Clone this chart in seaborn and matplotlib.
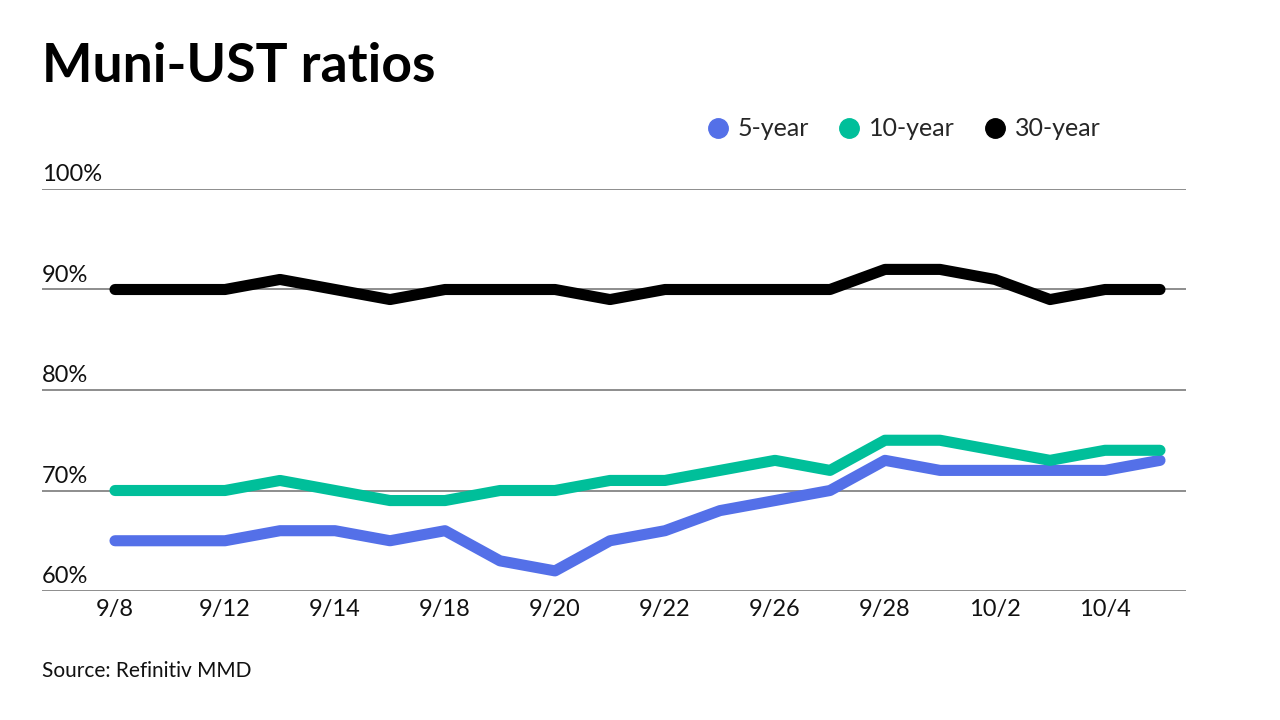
import pandas as pd
import numpy as np
import matplotlib.pyplot as plt
import seaborn as sns
from matplotlib.lines import Line2D
from matplotlib.transforms import blended_transform_factory

# data
dates = ["9/8", "9/11", "9/12", "9/13", "9/14", "9/15", "9/18", "9/19", "9/20", "9/21",
         "9/22", "9/25", "9/26", "9/27", "9/28", "9/29", "10/2", "10/3", "10/4", "10/5"]
five_year = [65, 65, 65, 66, 66, 65, 66, 63, 62, 65, 66, 68, 69, 70, 73, 72, 72, 72, 72, 73]
ten_year = [70, 70, 70, 71, 70, 69, 69, 70, 70, 71, 71, 72, 73, 72, 75, 75, 74, 73, 74, 74]
thirty_year = [90, 90, 90, 91, 90, 89, 90, 90, 90, 89, 90, 90, 90, 90, 92, 92, 91, 89, 90, 90]
series_names = ["5-year", "10-year", "30-year"]
colors = ["#5470E8", "#00BF9A", "#000000"]
y_ticks = [60, 70, 80, 90, 100]

df = pd.DataFrame({
    "date": dates * 3,
    "idx": list(range(len(dates))) * 3,
    "value": five_year + ten_year + thirty_year,
    "series": [series_names[0]] * len(dates) + [series_names[1]] * len(dates) + [series_names[2]] * len(dates),
})

sns.set_style("white")
plt.rcParams['font.family'] = ['Lato', 'DejaVu Sans']

fig = plt.figure(figsize=(12.8, 7.2), dpi=100)
ax = fig.add_axes([42 / 1280, 1 - 591 / 720, 1144 / 1280, (591 - 189) / 720])

# gridlines
for t in y_ticks:
    ax.axhline(t, color="#6f6f6f", lw=1.1, zorder=1)

sns.lineplot(data=df, x="idx", y="value", hue="series", palette=colors,
             hue_order=series_names, linewidth=8, legend=False, ax=ax,
             solid_capstyle="round", zorder=3)

ax.set_ylim(60, 100)
ax.set_xlim(-(115 - 42) / 55, 19 + (1186 - 1160) / 55)
for s in ax.spines.values():
    s.set_visible(False)
ax.set_yticks([])
ax.set_xlabel("")
ax.set_ylabel("")

ax.set_xticks(range(0, len(dates), 2))
ax.set_xticklabels(dates[::2], fontsize=17, color="#111111")
ax.tick_params(axis="x", length=0, pad=6)

# y labels above the gridlines
trans = blended_transform_factory(ax.transAxes, ax.transData)
for t in y_ticks:
    ax.text(0, t + 0.35, f"{t}%", transform=trans, ha="left", va="bottom",
            fontsize=17, color="#111111")

fig.text(42 / 1280, 1 - 67 / 720, "Muni-UST ratios", fontsize=38.5, fontweight="bold",
         ha="left", va="center", color="#000000")
fig.text(42 / 1280, 1 - 671 / 720, "Source: Refinitiv MMD", fontsize=15,
         ha="left", va="center", color="#111111")

handles = [Line2D([], [], marker="o", linestyle="", markersize=14, color=c) for c in colors]
fig.legend(handles, series_names, loc="center right", bbox_to_anchor=(1123 / 1280, 1 - 129 / 720),
           ncol=3, frameon=False, fontsize=18, handletextpad=0.3, columnspacing=1.1,
           handlelength=1.0)

fig.savefig("out.png", dpi=100)
